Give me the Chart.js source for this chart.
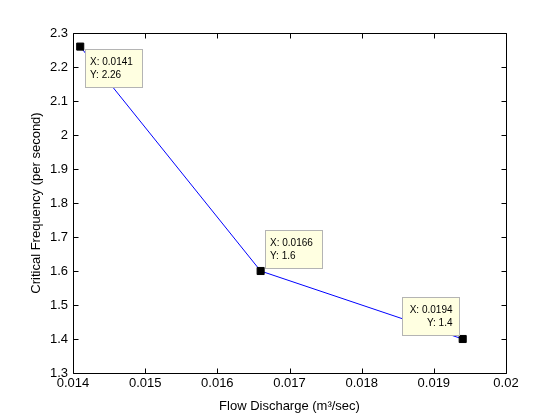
<!DOCTYPE html>
<html lang="en">
<head>
<meta charset="UTF-8" />
<title>Critical Frequency vs Flow Discharge</title>
<script src="https://cdn.jsdelivr.net/npm/chart.js@4.4.0/dist/chart.umd.min.js"></script>
<style>
  html, body { margin: 0; padding: 0; background: #fff; }
  #wrap { width: 560px; height: 420px; }
</style>
</head>
<body>
<div id="wrap"><canvas id="chart" width="560" height="420"></canvas></div>
<script>
// data
const flowDischarge = [0.0141, 0.0166, 0.0194];
const criticalFreq = [2.26, 1.6, 1.4];
const tipXText = ['X: 0.0141', 'X: 0.0166', 'X: 0.0194'];
const tipYText = ['Y: 2.26', 'Y: 1.6', 'Y: 1.4'];
const xTicks = [0.014, 0.015, 0.016, 0.017, 0.018, 0.019, 0.02];
const xTickLabels = ['0.014', '0.015', '0.016', '0.017', '0.018', '0.019', '0.02'];
const yTicks = [1.3, 1.4, 1.5, 1.6, 1.7, 1.8, 1.9, 2.0, 2.1, 2.2, 2.3];
const yTickLabels = ['1.3', '1.4', '1.5', '1.6', '1.7', '1.8', '1.9', '2', '2.1', '2.2', '2.3'];

const FONT = '"Liberation Sans", Arial, sans-serif';

// where each data tip box sits relative to its point (px)
const TIP_W = 57, TIP_H = 38;
const tipBoxes = [
  (px, py) => ({ left: px + 5, top: py + 2.5, align: 'left' }),
  (px, py) => ({ left: px + 4.5, top: py - 3 - TIP_H, align: 'left' }),
  (px, py) => ({ left: px - 3.5 - TIP_W, top: py - 4 - TIP_H, align: 'right' })
];

// MATLAB-like box with inward ticks on all four sides
const axesBox = {
  id: 'axesBox',
  afterDatasetsDraw(chart) {
    const { ctx, chartArea: a, scales: { x, y } } = chart;
    const L = Math.round(a.left) + 0.5, R = Math.round(a.right) + 0.5;
    const T = Math.round(a.top) + 0.5, B = Math.round(a.bottom) + 0.5;
    ctx.save();
    ctx.strokeStyle = '#000';
    ctx.lineWidth = 1;
    ctx.beginPath();
    ctx.rect(L, T, R - L, B - T);
    xTicks.forEach(v => {
      const px = Math.round(x.getPixelForValue(v)) + 0.5;
      ctx.moveTo(px, B); ctx.lineTo(px, B - 5);
      ctx.moveTo(px, T); ctx.lineTo(px, T + 5);
    });
    yTicks.forEach(v => {
      const py = Math.round(y.getPixelForValue(v)) + 0.5;
      ctx.moveTo(L, py); ctx.lineTo(L + 5, py);
      ctx.moveTo(R, py); ctx.lineTo(R - 5, py);
    });
    ctx.stroke();
    ctx.restore();
  }
};

// data tips
const dataTips = {
  id: 'dataTips',
  afterDraw(chart) {
    const { ctx, scales: { x, y } } = chart;
    ctx.save();
    ctx.font = '10px ' + FONT;
    ctx.textBaseline = 'middle';
    flowDischarge.forEach((fx, i) => {
      const px = x.getPixelForValue(fx);
      const py = y.getPixelForValue(criticalFreq[i]);
      const b = tipBoxes[i](px, py);
      const l = Math.round(b.left) + 0.5, t = Math.round(b.top) + 0.5;
      ctx.fillStyle = '#ffffe1';
      ctx.strokeStyle = '#b4b4b4';
      ctx.lineWidth = 1;
      ctx.fillRect(l, t, TIP_W, TIP_H);
      ctx.strokeRect(l, t, TIP_W, TIP_H);
      ctx.fillStyle = '#000';
      if (b.align === 'right') {
        ctx.textAlign = 'right';
        ctx.fillText(tipXText[i], l + TIP_W - 7, t + 12.3);
        ctx.fillText(tipYText[i], l + TIP_W - 7, t + 25.8);
      } else {
        ctx.textAlign = 'left';
        ctx.fillText(tipXText[i], l + 4.5, t + 12.3);
        ctx.fillText(tipYText[i], l + 4.5, t + 25.8);
      }
    });
    ctx.restore();
  }
};

new Chart(document.getElementById('chart'), {
  type: 'scatter',
  data: {
    datasets: [{
      data: flowDischarge.map((v, i) => ({ x: v, y: criticalFreq[i] })),
      showLine: true,
      borderColor: '#0000ff',
      borderWidth: 1,
      pointStyle: 'rect',
      pointRadius: 5,
      pointBackgroundColor: '#000',
      pointBorderColor: '#000',
      pointBorderWidth: 1,
      pointHoverRadius: 5
    }]
  },
  options: {
    responsive: false,
    animation: false,
    events: [],
    layout: { padding: { top: 33, right: 54, left: 0, bottom: 0 } },
    plugins: { legend: { display: false }, tooltip: { enabled: false } },
    scales: {
      x: {
        type: 'linear',
        min: 0.014,
        max: 0.02,
        grid: { display: false, drawTicks: false },
        border: { display: false },
        afterBuildTicks: s => { s.ticks = xTicks.map(v => ({ value: v })); },
        afterFit: s => { s.height = 47; },
        ticks: {
          autoSkip: false,
          maxRotation: 0,
          padding: 3,
          color: '#000',
          font: { family: FONT, size: 13 },
          callback: (v, i) => xTickLabels[i]
        },
        title: {
          display: true,
          text: 'Flow Discharge (m³/sec)',
          color: '#000',
          font: { family: FONT, size: 13 },
          padding: { top: 0, bottom: 6.2 }
        }
      },
      y: {
        type: 'linear',
        min: 1.3,
        max: 2.3,
        grid: { display: false, drawTicks: false },
        border: { display: false },
        afterBuildTicks: s => { s.ticks = yTicks.map(v => ({ value: v })); },
        afterFit: s => { s.width = 73; },
        ticks: {
          autoSkip: false,
          padding: 5,
          color: '#000',
          font: { family: FONT, size: 13 },
          callback: (v, i) => yTickLabels[i]
        },
        title: {
          display: true,
          text: 'Critical Frequency (per second)',
          color: '#000',
          font: { family: FONT, size: 13 },
          padding: { top: 28.9, bottom: 0 }
        }
      }
    }
  },
  plugins: [axesBox, dataTips]
});
</script>
</body>
</html>
